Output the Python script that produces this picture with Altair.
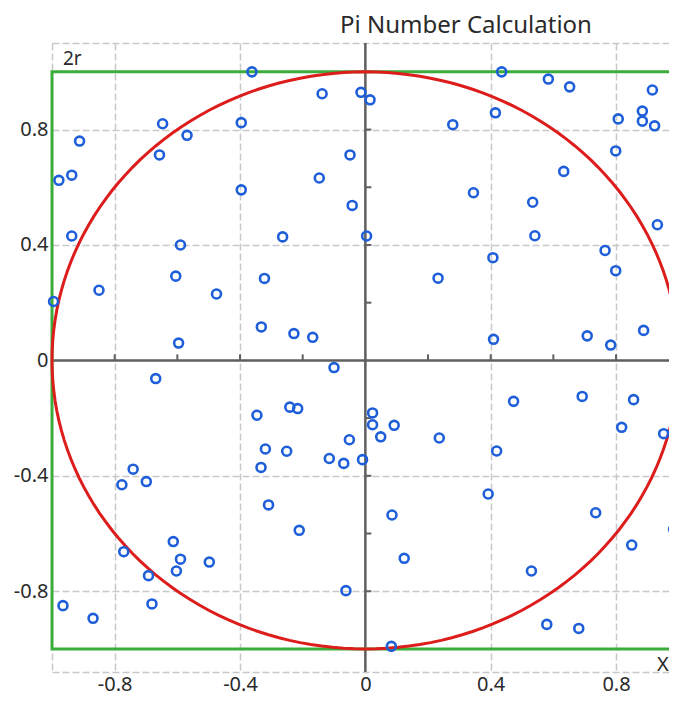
import altair as alt
import pandas as pd

# ---- data ----
pts_x = [
    -0.362, -0.138, -0.014, 0.015, -0.647, -0.569, -0.396, -0.912, -0.657, -0.049,
    -0.937, -0.978, -0.147, -0.396, -0.042, -0.937, -0.264, 0.004, -0.590, -0.605,
    -0.322, -0.850, -0.475, -0.995, -0.332, -0.228, -0.168, -0.596, -0.100,
    0.435, 0.584, 0.652, 0.916, 0.415, 0.884, 0.807, 0.884, 0.923, 0.279,
    0.799, 0.633, 0.345, 0.534, 0.932, 0.541, 0.765, 0.407, 0.799, 0.232,
    0.888, 0.708, 0.409, 0.783,
    -0.669, -0.346, -0.241, -0.216, -0.319, -0.251, -0.051, -0.115, -0.069, -0.009,
    -0.333, -0.741, -0.777, -0.699, -0.309, -0.211, -0.613, -0.771, -0.590, -0.498,
    -0.603, -0.692, -0.062, -0.965, -0.681, -0.869,
    0.023, 0.023, 0.092, 0.049, 0.236, 0.419, 0.473, 0.692, 0.856, 0.818,
    0.952, 0.392, 0.085, 0.735, 0.984, 0.124, 0.850, 0.530, 0.579, 0.681, 0.083,
]
pts_y = [
    1.000, 0.924, 0.929, 0.903, 0.820, 0.780, 0.824, 0.760, 0.712, 0.712,
    0.642, 0.624, 0.632, 0.591, 0.537, 0.431, 0.428, 0.431, 0.400, 0.292,
    0.284, 0.243, 0.230, 0.204, 0.116, 0.093, 0.080, 0.060, -0.025,
    1.000, 0.975, 0.948, 0.937, 0.858, 0.864, 0.837, 0.829, 0.813, 0.817,
    0.726, 0.655, 0.581, 0.548, 0.470, 0.432, 0.381, 0.356, 0.311, 0.285,
    0.104, 0.085, 0.073, 0.053,
    -0.063, -0.190, -0.162, -0.167, -0.307, -0.315, -0.275, -0.340, -0.357, -0.344,
    -0.371, -0.377, -0.431, -0.420, -0.501, -0.589, -0.628, -0.663, -0.689, -0.699,
    -0.730, -0.746, -0.798, -0.850, -0.844, -0.894,
    -0.182, -0.223, -0.225, -0.265, -0.269, -0.314, -0.142, -0.125, -0.136, -0.232,
    -0.254, -0.463, -0.536, -0.528, -0.585, -0.686, -0.640, -0.730, -0.915, -0.929, -0.991,
]
X_MIN, X_MAX = -1, 0.969
Y_MIN, Y_MAX = -1.08, 1.1
x_axis_values = [X_MIN, -0.8, -0.4, 0, 0.4, 0.8]          # X_MIN = left frame (no label)
y_axis_values = [Y_MIN, -0.8, -0.4, 0, 0.4, 0.8, Y_MAX]   # frame lines (no label)
minor_ticks = [-0.8, -0.6, -0.4, -0.2, 0.2, 0.4, 0.6, 0.8]
square_x = [-1]
square_x2 = [1]
square_y = [-1]
square_y2 = [1]
radius = 1
circle_deg = list(range(0, 362, 2))
title_text = "Pi Number Calculation"
corner_label = "2r"
x_label = "X"

# ---- styles ----
BLUE = "#1e5fd9"
RED = "#dd1c1c"
GREEN = "#3aad3a"
AXIS = "#606060"
GRID = "#c8c8c8"
FONT = "Noto Sans"
TXT = "#2a2a2a"

xs = alt.Scale(domain=[X_MIN, X_MAX], nice=False, zero=False)
ys = alt.Scale(domain=[Y_MIN, Y_MAX], nice=False, zero=False)

label_expr = ("abs(datum.value) > 0.95 ? '' : (datum.value == 0 ? '0' : (datum.value < 0 ? "
              "'-' + format(-datum.value, '.1f') : format(datum.value, '.1f')))")

x_axis = alt.Axis(values=x_axis_values, title=None, domain=False, ticks=False,
                  labelExpr=label_expr, labelFont=FONT, labelFontSize=20,
                  labelColor=TXT, labelPadding=2, grid=True, gridColor=GRID,
                  gridDash=[7, 3], gridWidth=1.5, labelFlush=False, labelOverlap=False)
y_axis = alt.Axis(values=y_axis_values, title=None, domain=False, ticks=False,
                  labelExpr=label_expr, labelFont=FONT, labelFontSize=20,
                  labelColor=TXT, labelPadding=4, grid=True, gridColor=GRID,
                  gridDash=[7, 3], gridWidth=1.5, labelFlush=False, labelOverlap=False)

points_df = pd.DataFrame({"x": pts_x, "y": pts_y})
square_df = pd.DataFrame({"x": square_x, "x2": square_x2, "y": square_y, "y2": square_y2})
zero_df = pd.DataFrame({"v": [0]})
ticks_df = pd.DataFrame({"t": minor_ticks, "z": [0] * len(minor_ticks)})
circle_df = pd.DataFrame({"deg": circle_deg})


def X(f):
    return alt.X(f, scale=xs, axis=x_axis)


def Y(f):
    return alt.Y(f, scale=ys, axis=y_axis)


center_v = alt.Chart(zero_df).mark_rule(color=AXIS, strokeWidth=2.5).encode(x=X("v:Q"))
center_h = alt.Chart(zero_df).mark_rule(color=AXIS, strokeWidth=2.5).encode(y=Y("v:Q"))

ticks_h = alt.Chart(ticks_df).mark_rule(color=AXIS, strokeWidth=2, y2Offset=-6).encode(
    x=X("t:Q"), y=Y("z:Q"), y2="z:Q")
ticks_v = alt.Chart(ticks_df).mark_rule(color=AXIS, strokeWidth=2, x2Offset=6).encode(
    y=Y("t:Q"), x=X("z:Q"), x2="z:Q")

square = alt.Chart(square_df).mark_rect(filled=False, color=GREEN, stroke=GREEN,
                                         strokeWidth=3).encode(
    x=X("x:Q"), x2="x2:Q", y=Y("y:Q"), y2="y2:Q")

circle = alt.Chart(circle_df).transform_calculate(
    cx=f"{radius} * cos(datum.deg * PI / 180)",
    cy=f"{radius} * sin(datum.deg * PI / 180)",
).mark_line(color=RED, strokeWidth=3).encode(
    x=X("cx:Q"), y=Y("cy:Q"), order="deg:Q")

points = alt.Chart(points_df).mark_point(shape="circle", filled=False, size=80,
                                         strokeWidth=2.6, color=BLUE, opacity=1).encode(
    x=X("x:Q"), y=Y("y:Q"))

lbl_2r = alt.Chart(pd.DataFrame({"x": [-1], "y": [1], "t": [corner_label]})).mark_text(
    align="left", baseline="alphabetic", dx=11, dy=-7, font=FONT, fontSize=19, color=TXT
).encode(x=X("x:Q"), y=Y("y:Q"), text="t:N")

lbl_x = alt.Chart(pd.DataFrame({"x": [1], "y": [-1], "t": [x_label]})).mark_text(
    align="right", baseline="alphabetic", dx=-10, dy=22, font=FONT, fontSize=20, color=TXT
).encode(x=X("x:Q"), y=Y("y:Q"), text="t:N")

chart = alt.layer(
    center_v, center_h, ticks_h, ticks_v, square, circle, points, lbl_2r, lbl_x
).properties(
    width=617, height=629,
    autosize=alt.AutoSizeParams(type="none"),
    padding={"left": 44, "top": 35, "right": 0, "bottom": 27},
    title=alt.TitleParams(title_text, anchor="start", frame="group", dx=288, dy=34,
                          offset=10, baseline="alphabetic", font=FONT, fontSize=24,
                          fontWeight="normal", color=TXT),
    background="white",
).configure_view(strokeWidth=0)

chart.save("out.html", embed_options={"renderer": "svg", "actions": False})
